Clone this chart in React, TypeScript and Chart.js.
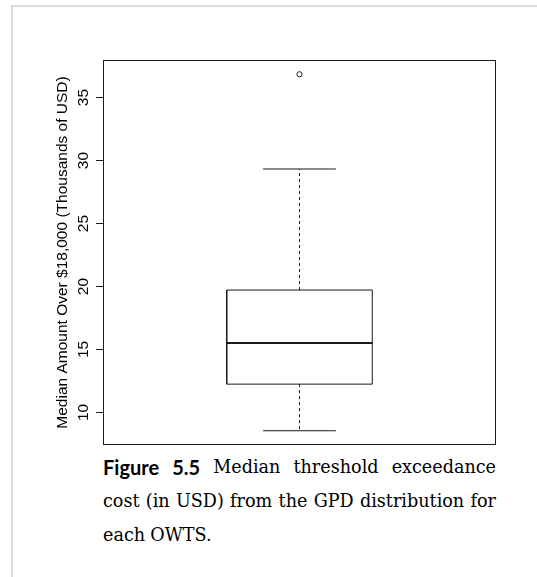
import React, { useEffect, useRef } from "react";
import { Chart, registerables } from "chart.js";

Chart.register(...registerables);

// ---- data (thousands of USD) ----
const LOWER_WHISKER = [8.55];
const Q1 = [12.25];
const MEDIAN = [15.52];
const Q3 = [19.72];
const UPPER_WHISKER = [29.33];
const OUTLIERS = [36.85];
const Y_TICKS = [10, 15, 20, 25, 30, 35];
const Y_TITLE = "Median Amount Over $18,000 (Thousands of USD)";
const CAPTION_LINES = [
  ["Figure", "5.5", "Median", "threshold", "exceedance"],
  ["cost", "(in", "USD)", "from", "the", "GPD", "distribution", "for"],
  ["each", "OWTS."],
];
const BOLD_WORDS = 2;

// ---- geometry (R boxplot defaults) ----
const CENTER = 1;
const BOX_HALF = 0.2;
const CAP_HALF = 0.1;

const allVals = [...LOWER_WHISKER, ...UPPER_WHISKER, ...OUTLIERS];
const dMin = Math.min(...allVals);
const dMax = Math.max(...allVals);
const ext = (dMax - dMin) * 0.04;
const Y_MIN = dMin - ext;
const Y_MAX = dMax + ext;

const LINE = "#1a1a1a";
const AXIS_FONT = "'Liberation Sans', Arial, Helvetica, sans-serif";

const frameBox = {
  id: "frameBox",
  afterDraw(chart: any) {
    const { ctx, chartArea: a } = chart;
    ctx.save();
    ctx.strokeStyle = LINE;
    ctx.lineWidth = 1;
    ctx.strokeRect(a.left + 0.5, a.top + 0.5, a.right - a.left - 1, a.bottom - a.top - 1);
    ctx.restore();
  },
};

function seg(x1: number, y1: number, x2: number, y2: number) {
  return [
    { x: x1, y: y1 },
    { x: x2, y: y2 },
  ];
}

export default function App() {
  const ref = useRef<HTMLCanvasElement | null>(null);

  useEffect(() => {
    if (!ref.current) return;
    const base = {
      showLine: true,
      fill: false,
      pointRadius: 0,
      borderColor: LINE,
      borderWidth: 1,
    };
    const datasets: any[] = [];
    for (let i = 0; i < MEDIAN.length; i++) {
      const c = CENTER + i;
      datasets.push({
        ...base,
        label: "box",
        data: [
          { x: c - BOX_HALF, y: Q1[i] },
          { x: c + BOX_HALF, y: Q1[i] },
          { x: c + BOX_HALF, y: Q3[i] },
          { x: c - BOX_HALF, y: Q3[i] },
          { x: c - BOX_HALF, y: Q1[i] },
        ],
      });
      datasets.push({ ...base, label: "median", borderWidth: 2, data: seg(c - BOX_HALF, MEDIAN[i], c + BOX_HALF, MEDIAN[i]) });
      datasets.push({ ...base, label: "upper whisker", borderDash: [3, 3], data: seg(c, Q3[i], c, UPPER_WHISKER[i]) });
      datasets.push({ ...base, label: "lower whisker", borderDash: [3, 3], data: seg(c, Q1[i], c, LOWER_WHISKER[i]) });
      datasets.push({ ...base, label: "upper cap", data: seg(c - CAP_HALF, UPPER_WHISKER[i], c + CAP_HALF, UPPER_WHISKER[i]) });
      datasets.push({ ...base, label: "lower cap", data: seg(c - CAP_HALF, LOWER_WHISKER[i], c + CAP_HALF, LOWER_WHISKER[i]) });
    }
    datasets.push({
      label: "outliers",
      showLine: false,
      data: OUTLIERS.map((v) => ({ x: CENTER, y: v })),
      pointStyle: "circle",
      pointRadius: 2.6,
      pointBorderWidth: 1,
      pointBorderColor: LINE,
      pointBackgroundColor: "#ffffff",
    });

    const chart = new Chart(ref.current, {
      type: "scatter",
      data: { datasets },
      options: {
        animation: false,
        responsive: false,
        layout: { padding: { top: 60, right: 41, bottom: 3, left: 0 } },
        plugins: { legend: { display: false }, tooltip: { enabled: false } },
        scales: {
          x: {
            type: "linear",
            min: 0.46,
            max: 1.54,
            display: false,
          },
          y: {
            type: "linear",
            min: Y_MIN,
            max: Y_MAX,
            afterBuildTicks: (s: any) => {
              s.ticks = Y_TICKS.map((v) => ({ value: v }));
            },
            afterFit: (s: any) => {
              s.width = 103;
              s.paddingTop = 0;
              s.paddingBottom = 0;
            },
            border: { display: false },
            grid: {
              drawOnChartArea: false,
              drawTicks: true,
              tickLength: 7,
              tickColor: LINE,
              tickWidth: 1,
            },
            ticks: {
              minRotation: 90,
              maxRotation: 90,
              crossAlign: "center",
              padding: 4,
              color: "#000",
              font: { family: AXIS_FONT, size: 15.5 },
            },
            title: {
              display: true,
              text: Y_TITLE,
              color: "#000",
              font: { family: AXIS_FONT, size: 15.5 },
              padding: { top: 53, bottom: 0 },
            },
          },
        },
      },
      plugins: [frameBox],
    } as any);
    return () => chart.destroy();
  }, []);

  return (
    <div
      style={{
        position: "absolute",
        left: 0,
        top: 0,
        width: 537,
        height: 577,
        background: "#fff",
        overflow: "hidden",
      }}
    >
      <div
        style={{
          position: "absolute",
          left: 11,
          top: 5,
          width: 700,
          height: 700,
          borderLeft: "2px solid #dcdcdc",
          borderTop: "2px solid #dcdcdc",
        }}
      />
      <canvas
        ref={ref}
        width={537}
        height={450}
        style={{ position: "absolute", left: 0, top: 0, width: 537, height: 450 }}
      />
      <div
        style={{
          position: "absolute",
          left: 103,
          top: 450,
          width: 393,
          fontFamily: "'DejaVu Serif', 'Liberation Serif', serif",
          fontSize: 17.6,
          lineHeight: "34px",
          color: "#000",
        }}
      >
        {CAPTION_LINES.map((words, li) => (
          <div
            key={li}
            style={{
              display: "flex",
              justifyContent: li < CAPTION_LINES.length - 1 ? "space-between" : "flex-start",
              gap: li < CAPTION_LINES.length - 1 ? 0 : "0.3em",
              whiteSpace: "nowrap",
            }}
          >
            {words.map((w, wi) => {
              const bold = li === 0 && wi < BOLD_WORDS;
              return (
                <span
                  key={wi}
                  style={
                    bold
                      ? { fontFamily: "Lato, 'Open Sans', sans-serif", fontWeight: 700, fontSize: 20 }
                      : undefined
                  }
                >
                  {w}
                </span>
              );
            })}
          </div>
        ))}
      </div>
    </div>
  );
}
